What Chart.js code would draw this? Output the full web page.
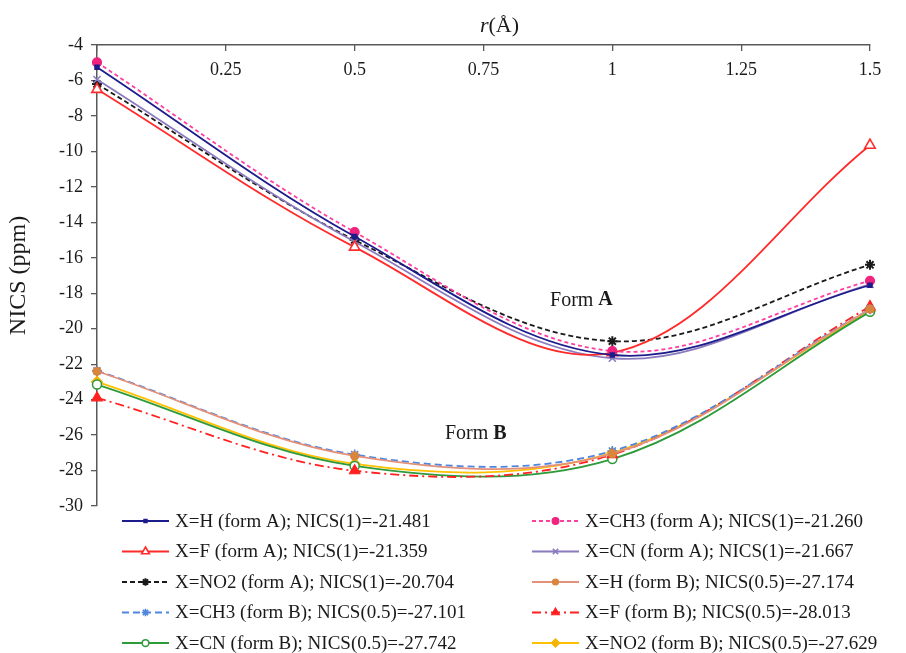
<!DOCTYPE html>
<html>
<head>
<meta charset="utf-8">
<script src="https://cdn.jsdelivr.net/npm/chart.js@4.4.0/dist/chart.umd.min.js"></script>
<style>
  html, body { margin: 0; padding: 0; background: #fff; }
</style>
</head>
<body>
<canvas id="nicsChart" width="906" height="653"></canvas>
<script>
// distance r (Å) of the ghost atom
const radius = [0, 0.5, 1, 1.5];

// form A series
const hFormA   = [-5.25, -14.8, -21.481, -17.55];
const ch3FormA = [-4.98, -14.55, -21.260, -17.3];
const fFormA   = [-6.5, -15.4, -21.359, -9.65];
const cnFormA  = [-5.95, -15.1, -21.667, -17.5];
const no2FormA = [-6.2, -15.0, -20.704, -16.4];

// form B series
const hFormB   = [-22.4, -27.174, -27.05, -18.9];
const ch3FormB = [-22.38, -27.101, -26.9, -18.9];
const fFormB   = [-23.9, -28.013, -27.1, -18.75];
const cnFormB  = [-23.15, -27.742, -27.35, -19.05];
const no2FormB = [-23.0, -27.629, -27.0, -19.0];

const seriesLabels = [
  'X=H (form A); NICS(1)=-21.481',
  'X=CH3 (form A); NICS(1)=-21.260',
  'X=F (form A); NICS(1)=-21.359',
  'X=CN (form A); NICS(1)=-21.667',
  'X=NO2 (form A); NICS(1)=-20.704',
  'X=H (form B); NICS(0.5)=-27.174',
  'X=CH3 (form B); NICS(0.5)=-27.101',
  'X=F (form B); NICS(0.5)=-28.013',
  'X=CN (form B); NICS(0.5)=-27.742',
  'X=NO2 (form B); NICS(0.5)=-27.629'
];

const yMin = -30, yMax = -4, yStep = 2;
const xMin = 0, xMax = 1.5, xStep = 0.25;

const serif = '"Liberation Serif", "Times New Roman", serif';
const axisColor = '#595959';

function pts(vals) {
  return vals.map((v, i) => ({ x: radius[i], y: v }));
}

function line(label, vals, color, opts) {
  return Object.assign({
    label: label,
    data: pts(vals),
    borderColor: color,
    backgroundColor: color,
    pointBackgroundColor: color,
    pointBorderColor: color,
    pointBorderWidth: 1.2,
    borderWidth: 1.8,
    tension: 0.35,
    borderDash: [],
    clip: false
  }, opts);
}

const datasets = [
  line(seriesLabels[0], hFormA, '#1c1c8c', { pointStyle: 'rect', pointRadius: 3 }),
  line(seriesLabels[1], ch3FormA, '#ff3f9f', { pointStyle: 'circle', pointRadius: 4.5, pointBackgroundColor: '#f0237f', pointBorderColor: '#f0237f', borderDash: [4, 3] }),
  line(seriesLabels[2], fFormA, '#ff2b2b', { pointStyle: 'triangle', pointRadius: 6, pointBackgroundColor: '#ffffff', pointBorderWidth: 1.6 }),
  line(seriesLabels[3], cnFormA, '#8a7bbf', { pointStyle: 'crossRot', pointRadius: 5, pointBorderWidth: 1.5 }),
  line(seriesLabels[4], no2FormA, '#1a1a1a', { pointStyle: 'star', pointRadius: 5, pointBorderWidth: 2, borderDash: [5, 3] }),
  line(seriesLabels[5], hFormB, '#e4917a', { pointStyle: 'circle', pointRadius: 4, pointBackgroundColor: '#d9853f', pointBorderColor: '#d9853f' }),
  line(seriesLabels[6], ch3FormB, '#4f86e0', { pointStyle: 'star', pointRadius: 5, pointBorderWidth: 1.6, borderDash: [7, 4] }),
  line(seriesLabels[7], fFormB, '#ff2020', { pointStyle: 'triangle', pointRadius: 6, borderDash: [9, 4, 2, 4] }),
  line(seriesLabels[8], cnFormB, '#2e9a3a', { pointStyle: 'circle', pointRadius: 4.5, pointBackgroundColor: '#ffffff', pointBorderWidth: 1.5 }),
  line(seriesLabels[9], no2FormB, '#ffc000', { pointStyle: 'rectRot', pointRadius: 5.5, pointBackgroundColor: '#f5b400', pointBorderColor: '#f5b400' })
];

// two-column legend under the plot
const twoColLegend = {
  id: 'twoColLegend',
  afterDraw(chart) {
    const ctx = chart.ctx;
    const cols = [122, 532];
    const rowY0 = 521, rowGap = 30.5, sampleW = 47;
    chart.data.datasets.forEach((ds, i) => {
      const x = cols[i % 2];
      const y = rowY0 + Math.floor(i / 2) * rowGap;
      ctx.save();
      ctx.strokeStyle = ds.borderColor;
      ctx.lineWidth = ds.borderWidth;
      ctx.setLineDash(ds.borderDash);
      ctx.beginPath();
      ctx.moveTo(x, y);
      ctx.lineTo(x + sampleW, y);
      ctx.stroke();
      ctx.setLineDash([]);
      ctx.fillStyle = ds.pointBackgroundColor;
      ctx.strokeStyle = ds.pointBorderColor;
      ctx.lineWidth = ds.pointBorderWidth;
      Chart.helpers.drawPoint(ctx, {
        pointStyle: ds.pointStyle, rotation: 0,
        radius: ds.pointRadius * 0.75, borderWidth: ds.pointBorderWidth
      }, x + sampleW / 2, y);
      ctx.fillStyle = '#1a1a1a';
      ctx.font = '19px ' + serif;
      ctx.textAlign = 'left';
      ctx.textBaseline = 'middle';
      ctx.fillText(ds.label, x + sampleW + 6, y + 1);
      ctx.restore();
    });
  }
};

// x tick labels sit below the top axis line; "Form A" / "Form B" notes; r (Å) title
const notes = {
  id: 'notes',
  afterDraw(chart) {
    const ctx = chart.ctx;
    const xs = chart.scales.x, ys = chart.scales.y;
    function mixed(parts, cx, cy) {
      let w = 0;
      parts.forEach(p => { ctx.font = p.font; w += ctx.measureText(p.text).width; });
      let x = cx - w / 2;
      parts.forEach(p => {
        ctx.font = p.font;
        ctx.fillText(p.text, x, cy);
        x += ctx.measureText(p.text).width;
      });
    }
    ctx.save();
    ctx.fillStyle = '#1a1a1a';
    ctx.textBaseline = 'middle';
    ctx.textAlign = 'center';
    ctx.font = '18px ' + serif;
    xs.ticks.forEach(t => {
      if (t.value === 0) return;
      ctx.fillText(String(t.value), xs.getPixelForValue(t.value), 70);
    });
    ctx.textAlign = 'left';
    mixed([{ text: 'Form ', font: '20px ' + serif }, { text: 'A', font: 'bold 20px ' + serif }],
      xs.getPixelForValue(0.94), ys.getPixelForValue(-18.4));
    mixed([{ text: 'Form ', font: '20px ' + serif }, { text: 'B', font: 'bold 20px ' + serif }],
      xs.getPixelForValue(0.735), ys.getPixelForValue(-25.95));
    mixed([{ text: 'r', font: 'italic 22px ' + serif }, { text: '(Å)', font: '22px ' + serif }],
      (xs.left + xs.right) / 2 + 16, 26);
    ctx.restore();
  }
};

new Chart(document.getElementById('nicsChart'), {
  type: 'line',
  data: { datasets: datasets },
  plugins: [twoColLegend, notes],
  options: {
    responsive: false,
    animation: false,
    devicePixelRatio: 1,
    layout: { padding: { top: 0, left: 0, right: 36, bottom: 147 } },
    plugins: {
      legend: { display: false },
      tooltip: { enabled: false }
    },
    scales: {
      x: {
        type: 'linear',
        position: 'top',
        min: xMin,
        max: xMax,
        afterFit: (scale) => { scale.height = 45; },
        ticks: {
          stepSize: xStep,
          display: false
        },
        grid: { drawOnChartArea: false, tickLength: -6, color: axisColor, lineWidth: 1.3 },
        border: { color: axisColor, width: 1.5 }
      },
      y: {
        min: yMin,
        max: yMax,
        afterFit: (scale) => { scale.width = 97; },
        ticks: {
          stepSize: yStep,
          padding: 8,
          color: '#1a1a1a',
          font: { family: serif, size: 18 }
        },
        title: {
          display: true,
          text: 'NICS (ppm)',
          color: '#1a1a1a',
          font: { family: serif, size: 24 },
          padding: { top: 4, bottom: 0 }
        },
        grid: { drawOnChartArea: false, tickLength: 6, color: axisColor, lineWidth: 1.3 },
        border: { color: axisColor, width: 1.5 }
      }
    }
  }
});
</script>
</body>
</html>
